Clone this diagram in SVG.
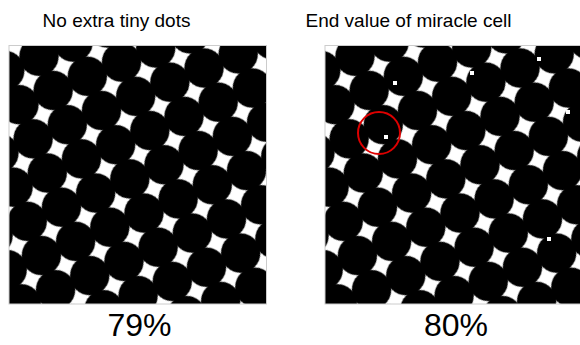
<svg xmlns="http://www.w3.org/2000/svg" width="580" height="345" viewBox="0 0 580 345">
<style>
.t{font-family:"Liberation Sans",Arial,sans-serif;fill:#000;text-anchor:middle}
.dot{fill:#fff}
</style>
<defs>
<pattern id="lat" patternUnits="userSpaceOnUse" width="37" height="37" patternTransform="translate(101.5,110.5) rotate(-22.5)">
<circle cx="0" cy="0" r="19.7" fill="#000"/>
<circle cx="37" cy="0" r="19.7" fill="#000"/>
<circle cx="0" cy="37" r="19.7" fill="#000"/>
<circle cx="37" cy="37" r="19.7" fill="#000"/>
</pattern>
</defs>
<rect width="580" height="345" fill="#fff"/>
<text class="t" x="116.5" y="27" font-size="19">No extra tiny dots</text>
<text class="t" x="408.5" y="27" font-size="19">End value of miracle cell</text>
<g id="left">
<rect x="9" y="45.5" width="257.5" height="258.5" fill="#fff"/>
<rect x="9" y="45.5" width="257.5" height="258.5" fill="url(#lat)" stroke="#ccc" stroke-width="1"/>
</g>
<g id="right" transform="translate(316,0)">
<rect x="9" y="45.5" width="257.5" height="258.5" fill="#fff"/>
<rect x="9" y="45.5" width="257.5" height="258.5" fill="url(#lat)" stroke="#ccc" stroke-width="1"/>
</g>
<g id="dots">
<rect class="dot" x="393" y="81" width="4" height="4"/>
<rect class="dot" x="384" y="135" width="4" height="4"/>
<rect class="dot" x="470" y="71" width="4" height="4"/>
<rect class="dot" x="537" y="57" width="4" height="4"/>
<rect class="dot" x="566" y="110" width="4" height="4"/>
<rect class="dot" x="547" y="237" width="4" height="4"/>
</g>
<circle cx="379" cy="133" r="21" fill="none" stroke="#d00" stroke-width="2"/>
<text class="t" x="139.5" y="336" font-size="32">79%</text>
<text class="t" x="456" y="336" font-size="32">80%</text>
</svg>
